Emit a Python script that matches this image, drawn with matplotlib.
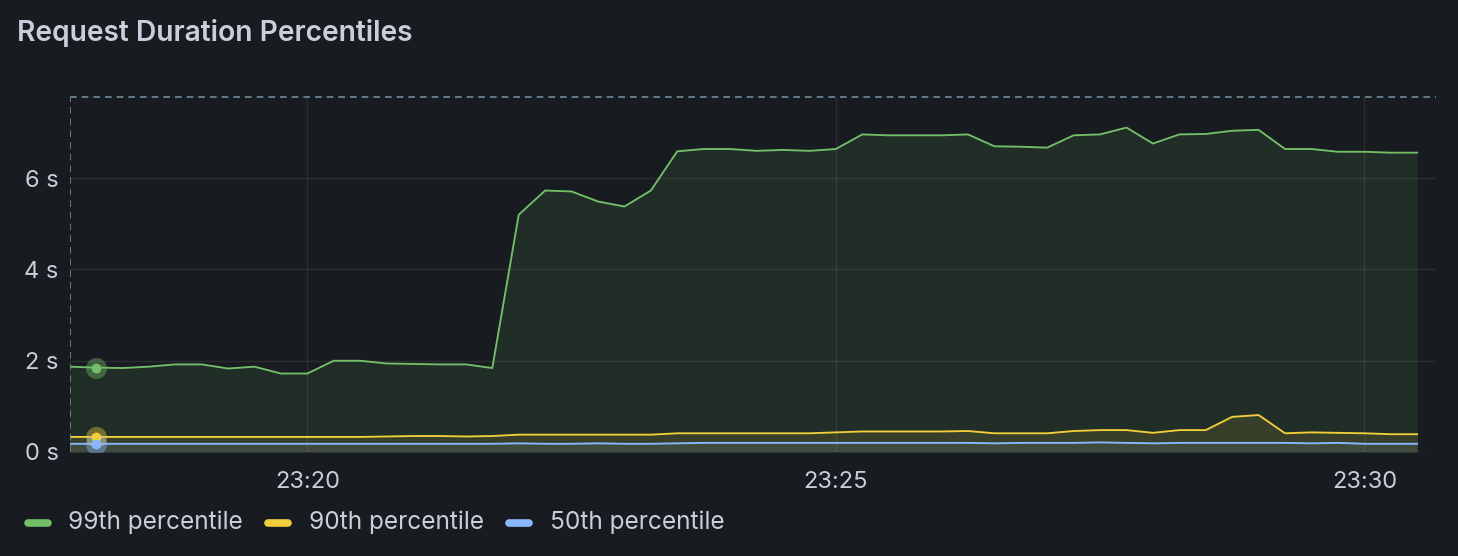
import pandas as pd
import matplotlib
matplotlib.use("Agg")
import matplotlib.pyplot as plt
import matplotlib.dates as mdates
from matplotlib.lines import Line2D

# 15 s samples, 23:17:45 -> 23:30:30
times = pd.date_range("2024-01-01 23:17:45", periods=52, freq="15s")

p99 = [1.87, 1.85, 1.84, 1.87, 1.92, 1.92, 1.83, 1.87, 1.72, 1.72, 2.00, 2.00, 1.94,
       1.93, 1.92, 1.92, 1.84, 5.20, 5.73, 5.71, 5.49, 5.38, 5.73, 6.59, 6.64, 6.64,
       6.60, 6.62, 6.60, 6.64, 6.96, 6.94, 6.94, 6.94, 6.96, 6.70, 6.69, 6.67, 6.94,
       6.96, 7.11, 6.76, 6.96, 6.97, 7.04, 7.06, 6.64, 6.64, 6.58, 6.58, 6.56, 6.56]
p90 = [0.33, 0.33, 0.33, 0.33, 0.33, 0.33, 0.33, 0.33, 0.33, 0.33, 0.33, 0.33, 0.34,
       0.35, 0.35, 0.34, 0.35, 0.38, 0.38, 0.38, 0.38, 0.38, 0.38, 0.41, 0.41, 0.41,
       0.41, 0.41, 0.41, 0.43, 0.45, 0.45, 0.45, 0.45, 0.46, 0.41, 0.41, 0.41, 0.46,
       0.48, 0.48, 0.42, 0.48, 0.48, 0.77, 0.81, 0.41, 0.43, 0.42, 0.41, 0.39, 0.39]
p50 = [0.18, 0.18, 0.18, 0.18, 0.18, 0.18, 0.18, 0.18, 0.18, 0.18, 0.18, 0.18, 0.18,
       0.18, 0.18, 0.18, 0.18, 0.19, 0.18, 0.18, 0.19, 0.18, 0.18, 0.19, 0.20, 0.20,
       0.20, 0.20, 0.20, 0.20, 0.20, 0.20, 0.20, 0.20, 0.20, 0.19, 0.20, 0.20, 0.20,
       0.21, 0.20, 0.19, 0.20, 0.20, 0.20, 0.20, 0.20, 0.19, 0.20, 0.18, 0.18, 0.18]

series = [("99th percentile", p99, "#73BF69"),
          ("90th percentile", p90, "#F0CF3A"),
          ("50th percentile", p50, "#8AB8FF")]
hover_idx = 1

BG = "#181b1f"
TXT = "#ccccdc"
plt.rcParams["font.family"] = ["Inter", "DejaVu Sans"]

W, H = 1458, 556
fig = plt.figure(figsize=(W / 100, H / 100), dpi=100, facecolor=BG)
# axes box in pixels: left 69.5, right 1436, top 97, bottom 452
ax = fig.add_axes([69.5 / W, (H - 452) / H, (1436 - 69.5) / W, (452 - 97) / H])
ax.set_facecolor(BG)

for name, vals, col in series:
    ax.fill_between(times, 0, vals, color=col, alpha=0.11, lw=0)
    ax.plot(times, vals, color=col, lw=1.35, solid_joinstyle="round")

for name, vals, col in series:
    ax.scatter([times[hover_idx]], [vals[hover_idx]], s=230, color=col, alpha=0.4, lw=0, zorder=5)
    ax.scatter([times[hover_idx]], [vals[hover_idx]], s=50, color=col, lw=0, zorder=6)

x0 = times[0]
x1 = times[0] + pd.Timedelta(seconds=(1436 - 69.5) / 105.7 * 60)
ax.set_xlim(x0, x1)
ax.set_ylim(0, 7.78)

ax.axvline(x0, color="#6f8a99", lw=1.2, ls=(0, (4, 3)), zorder=7)
ax.axhline(7.78, color="#6f8a99", lw=1.2, ls=(0, (4, 3)), zorder=7, clip_on=False)

ax.set_yticks([0, 2, 4, 6])
ax.set_yticklabels(["0 s", "2 s", "4 s", "6 s"])
ax.xaxis.set_major_locator(mdates.MinuteLocator(byminute=[20, 25, 30]))
ax.xaxis.set_major_formatter(mdates.DateFormatter("%H:%M"))
ax.tick_params(axis="both", length=0, colors=TXT, labelsize=17)
ax.tick_params(axis="y", pad=8)
ax.tick_params(axis="x", pad=14)
ax.grid(True, color="#ccccdc", alpha=0.1, lw=1)
for s in ax.spines.values():
    s.set_visible(False)

fig.text(17 / W, 1 - 33 / H, "Request Duration Percentiles", color=TXT,
         fontsize=20.3, fontweight="semibold", va="center", ha="left")

# legend
leg_y = 1 - 522.5 / H
for (name, vals, col), mx, tx in zip(series, [28, 268, 509], [68, 309, 550]):
    fig.add_artist(Line2D([mx / W, (mx + 20) / W], [leg_y, leg_y], color=col, lw=5.5,
                          solid_capstyle="round", transform=fig.transFigure))
    fig.text(tx / W, leg_y, name, color=TXT, fontsize=17.6, va="center", ha="left")

fig.savefig("out.png", dpi=100, facecolor=BG)
